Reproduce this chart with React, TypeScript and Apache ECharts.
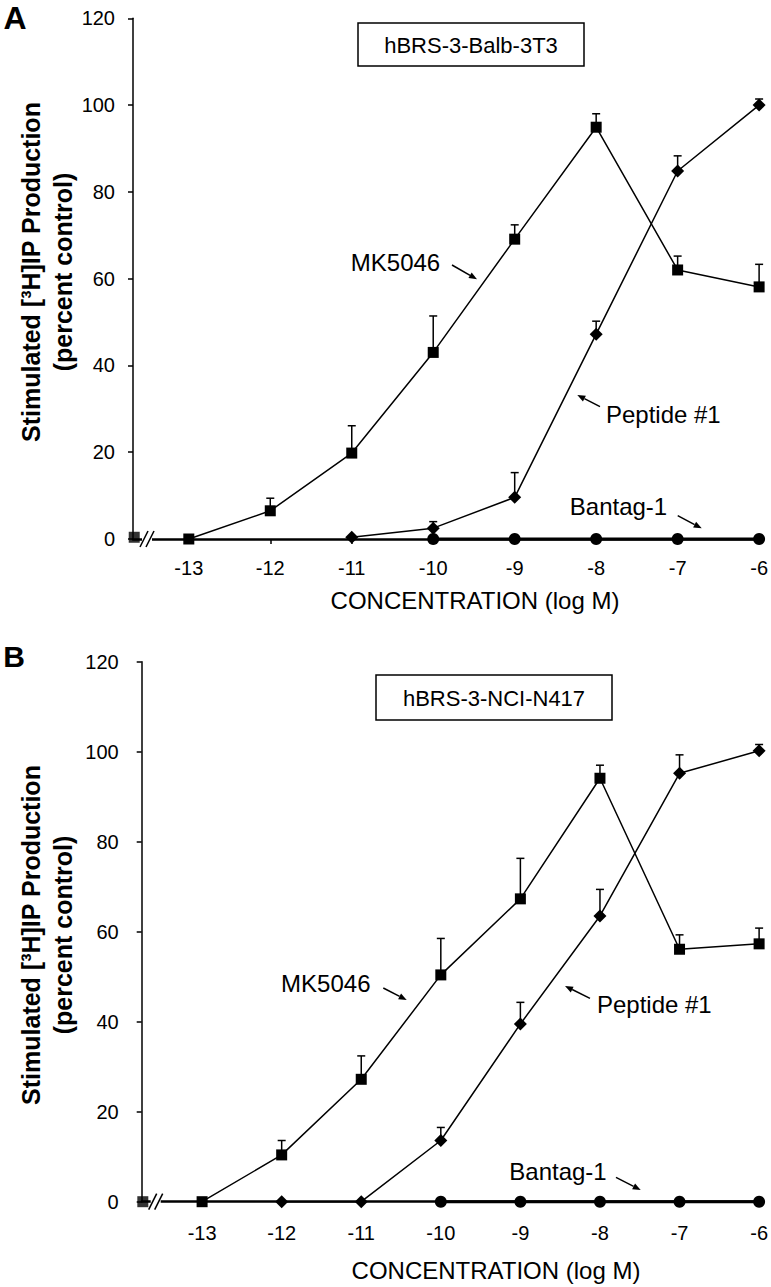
import React, { useEffect, useRef } from "react";
import * as echarts from "echarts";

// ---------- data ----------
const conc = [-13, -12, -11, -10, -9, -8, -7, -6];
const xTickLabels = [-13, -12, -11, -10, -9, -8, -7, -6];

// Panel A: hBRS-3-Balb-3T3
const controlA = 0.4;
const mkA = [0, 6.5, 19.8, 43.0, 69.1, 94.9, 62.0, 58.1];
const mkAErrTop = [null, 9.4, 26.1, 51.4, 72.4, 98.0, 65.2, 63.3];
const pepA = [null, null, 0.4, 2.5, 9.6, 47.2, 84.8, 100.0];
const pepAErrTop = [null, null, null, 4.0, 15.3, 50.2, 88.3, 101.4];
const banA = [null, null, null, 0, 0, 0, 0, 0];

// Panel B: hBRS-3-NCI-N417
const controlB = 0;
const mkB = [0, 10.4, 27.2, 50.4, 67.3, 94.1, 56.1, 57.3];
const mkBErrTop = [null, 13.6, 32.4, 58.5, 76.3, 97.0, 59.3, 60.8];
const pepB = [null, 0, 0, 13.6, 39.5, 63.5, 95.2, 100.2];
const pepBErrTop = [null, null, null, 16.5, 44.3, 69.4, 99.3, 101.6];
const banB = [null, null, null, 0, 0, 0, 0, 0];

const panelTitles = ["hBRS-3-Balb-3T3", "hBRS-3-NCI-N417"];
const seriesNames = ["MK5046", "Peptide #1", "Bantag-1"];
const yTitle1 = "Stimulated [³H]IP Production";
const yTitle2 = "(percent control)";
const xTitle = "CONCENTRATION (log M)";

// ---------- layout ----------
const FONT = "'Liberation Sans', Arial, Helvetica, sans-serif";
const xMinA = -13.685;
const xMinB = -13.759;
const ctrlXA = -13.67;
const ctrlXB = -13.745;

const pairs = (vals: (number | null)[]) =>
  conc.map((c, i) => [c, vals[i]]).filter((p) => p[1] !== null);
const errData = (vals: (number | null)[], tops: (number | null)[]) =>
  conc
    .map((c, i) => [c, vals[i], tops[i]])
    .filter((p) => p[1] !== null && p[2] !== null);

const errRender = (params: any, api: any) => {
  const x = api.value(0);
  const lo = api.coord([x, api.value(1)]);
  const hi = api.coord([x, api.value(2)]);
  const st = { stroke: "#000", lineWidth: 1.5 };
  return {
    type: "group",
    children: [
      { type: "line", shape: { x1: lo[0], y1: lo[1], x2: hi[0], y2: hi[1] }, style: st },
      { type: "line", shape: { x1: hi[0] - 4, y1: hi[1], x2: hi[0] + 4, y2: hi[1] }, style: st },
    ],
  };
};

function panelSeries(
  gi: number,
  ctrlX: number,
  ctrlY: number,
  mk: (number | null)[],
  mkErr: (number | null)[],
  pep: (number | null)[],
  pepErr: (number | null)[],
  ban: (number | null)[]
) {
  const ax = { xAxisIndex: gi, yAxisIndex: gi };
  const line = { color: "#000", width: 1.5 };
  return [
    {
      type: "custom", ...ax, renderItem: errRender, data: errData(mk, mkErr),
      encode: { x: 0, y: [1, 2] }, z: 2, silent: true,
    },
    {
      type: "custom", ...ax, renderItem: errRender, data: errData(pep, pepErr),
      encode: { x: 0, y: [1, 2] }, z: 2, silent: true,
    },
    {
      name: seriesNames[2], type: "line", ...ax, data: pairs(ban), symbol: "circle",
      symbolSize: 12, itemStyle: { color: "#000" }, lineStyle: { color: "#000", width: 3 },
      clip: false, z: 3,
    },
    {
      name: seriesNames[1], type: "line", ...ax, data: pairs(pep), symbol: "diamond",
      symbolSize: 13, itemStyle: { color: "#000" }, lineStyle: line, clip: false, z: 4,
    },
    {
      name: seriesNames[0], type: "line", ...ax, data: pairs(mk), symbol: "rect",
      symbolSize: 11, itemStyle: { color: "#000" }, lineStyle: line, clip: false, z: 5,
    },
    {
      name: "control", type: "scatter", ...ax, data: [[ctrlX, ctrlY]], symbol: "rect",
      symbolSize: 11, itemStyle: { color: "#000" }, clip: false, z: 5,
    },
  ];
}

function xAxisCfg(gi: number, min: number, margin: number) {
  return {
    gridIndex: gi, type: "value", min, max: -6,
    axisLine: { show: true, lineStyle: { color: "#000", width: 2.5 } },
    axisTick: { show: true, customValues: xTickLabels, length: 5, lineStyle: { color: "#000", width: 1.5 } },
    axisLabel: {
      customValues: xTickLabels, fontSize: 20, color: "#000", fontFamily: FONT, margin,
      formatter: (v: number) => String(v),
    },
    splitLine: { show: false },
  };
}
function yAxisCfg(gi: number, margin: number) {
  return {
    gridIndex: gi, type: "value", min: 0, max: 120, interval: 20,
    axisLine: { show: true, lineStyle: { color: "#000", width: 1.5 } },
    axisTick: { show: true, length: 5, lineStyle: { color: "#000", width: 1.5 } },
    axisLabel: { fontSize: 20, color: "#000", fontFamily: FONT, margin },
    splitLine: { show: false },
  };
}

function arrow(x1: number, y1: number, x2: number, y2: number) {
  const ang = Math.atan2(y2 - y1, x2 - x1);
  const L = 8, Wd = 3.2;
  const bx = x2 - L * Math.cos(ang), by = y2 - L * Math.sin(ang);
  const px = -Math.sin(ang) * Wd, py = Math.cos(ang) * Wd;
  return [
    { type: "line", z: 100, shape: { x1, y1, x2: bx, y2: by }, style: { stroke: "#000", lineWidth: 1.5 } },
    {
      type: "polygon", z: 100,
      shape: { points: [[x2, y2], [bx + px, by + py], [bx - px, by - py]] },
      style: { fill: "#000" },
    },
  ];
}
function txt(x: number, y: number, text: string, size: number, weight = "normal", rotation = 0) {
  return {
    type: "text", x, y, rotation, z: 100,
    style: {
      text, fontSize: size, fontWeight: weight, fontFamily: FONT, fill: "#000",
      align: "center", verticalAlign: "middle",
    },
  };
}
function breakMarks(cx: number, cy: number) {
  const st = { stroke: "#000", lineWidth: 1.5 };
  return [
    { type: "rect", z: 99, shape: { x: cx + 9, y: cy - 4, width: 10, height: 8 }, style: { fill: "#fff" } },
    { type: "line", z: 100, shape: { x1: cx + 7, y1: cy + 8, x2: cx + 15, y2: cy - 8 }, style: st },
    { type: "line", z: 100, shape: { x1: cx + 13, y1: cy + 8, x2: cx + 21, y2: cy - 8 }, style: st },
  ];
}

export default function App() {
  const ref = useRef<HTMLDivElement>(null);
  useEffect(() => {
    if (!ref.current) return;
    const chart = echarts.init(ref.current, null, { renderer: "svg" });
    chart.setOption({
      animation: false,
      backgroundColor: "#fff",
      grid: [
        { left: 133, top: 18.3, width: 628, height: 520.7 },
        { left: 141.7, top: 661.7, width: 619.3, height: 540 },
      ],
      xAxis: [xAxisCfg(0, xMinA, 19), xAxisCfg(1, xMinB, 21)],
      yAxis: [yAxisCfg(0, 18), yAxisCfg(1, 23)],
      series: [
        ...panelSeries(0, ctrlXA, controlA, mkA, mkAErrTop, pepA, pepAErrTop, banA),
        ...panelSeries(1, ctrlXB, controlB, mkB, mkBErrTop, pepB, pepBErrTop, banB),
      ],
    });
    const cA = chart.convertToPixel({ xAxisIndex: 0, yAxisIndex: 0 }, [xMinA, 0]) as number[];
    const cB = chart.convertToPixel({ xAxisIndex: 1, yAxisIndex: 1 }, [xMinB, 0]) as number[];
    const g: any[] = [
      // panel letters
      txt(15, 18, "A", 32, "bold"),
      txt(14, 656, "B", 30, "bold"),
      // title boxes
      { type: "rect", z: 100, shape: { x: 358, y: 23, width: 226, height: 43 }, style: { fill: "#fff", stroke: "#000", lineWidth: 1.5 } },
      txt(471, 45, panelTitles[0], 22),
      { type: "rect", z: 100, shape: { x: 376, y: 675, width: 236, height: 45 }, style: { fill: "#fff", stroke: "#000", lineWidth: 1.5 } },
      txt(494, 698, panelTitles[1], 22),
      // y titles
      txt(31, 272, yTitle1, 25, "bold", Math.PI / 2),
      txt(63, 272, yTitle2, 25, "bold", Math.PI / 2),
      txt(31, 935, yTitle1, 25, "bold", Math.PI / 2),
      txt(63, 935, yTitle2, 25, "bold", Math.PI / 2),
      // x titles
      txt(475, 600, xTitle, 24),
      txt(496, 1270, xTitle, 24),
      // annotations A
      txt(395.5, 262, seriesNames[0], 24),
      ...arrow(452, 265, 477, 279.3),
      txt(663.3, 414.3, seriesNames[1], 24),
      ...arrow(600, 406.7, 577.3, 395),
      txt(618.5, 506.7, seriesNames[2], 24),
      ...arrow(677.7, 515.7, 701.7, 528.3),
      // annotations B
      txt(325.8, 983.3, seriesNames[0], 24),
      ...arrow(383.3, 988, 406.7, 1000),
      txt(654.3, 1004, seriesNames[1], 24),
      ...arrow(590, 998.3, 565, 986),
      txt(558, 1171.7, seriesNames[2], 24),
      ...arrow(616, 1177.3, 640.7, 1190),
      // axis breaks
      ...breakMarks(cA[0], cA[1]),
      ...breakMarks(cB[0], cB[1]),
    ];
    chart.setOption({ graphic: g });
    return () => chart.dispose();
  }, []);
  return (
    <div
      ref={ref}
      style={{ position: "fixed", left: 0, top: 0, width: 771, height: 1287, background: "#fff" }}
    />
  );
}
